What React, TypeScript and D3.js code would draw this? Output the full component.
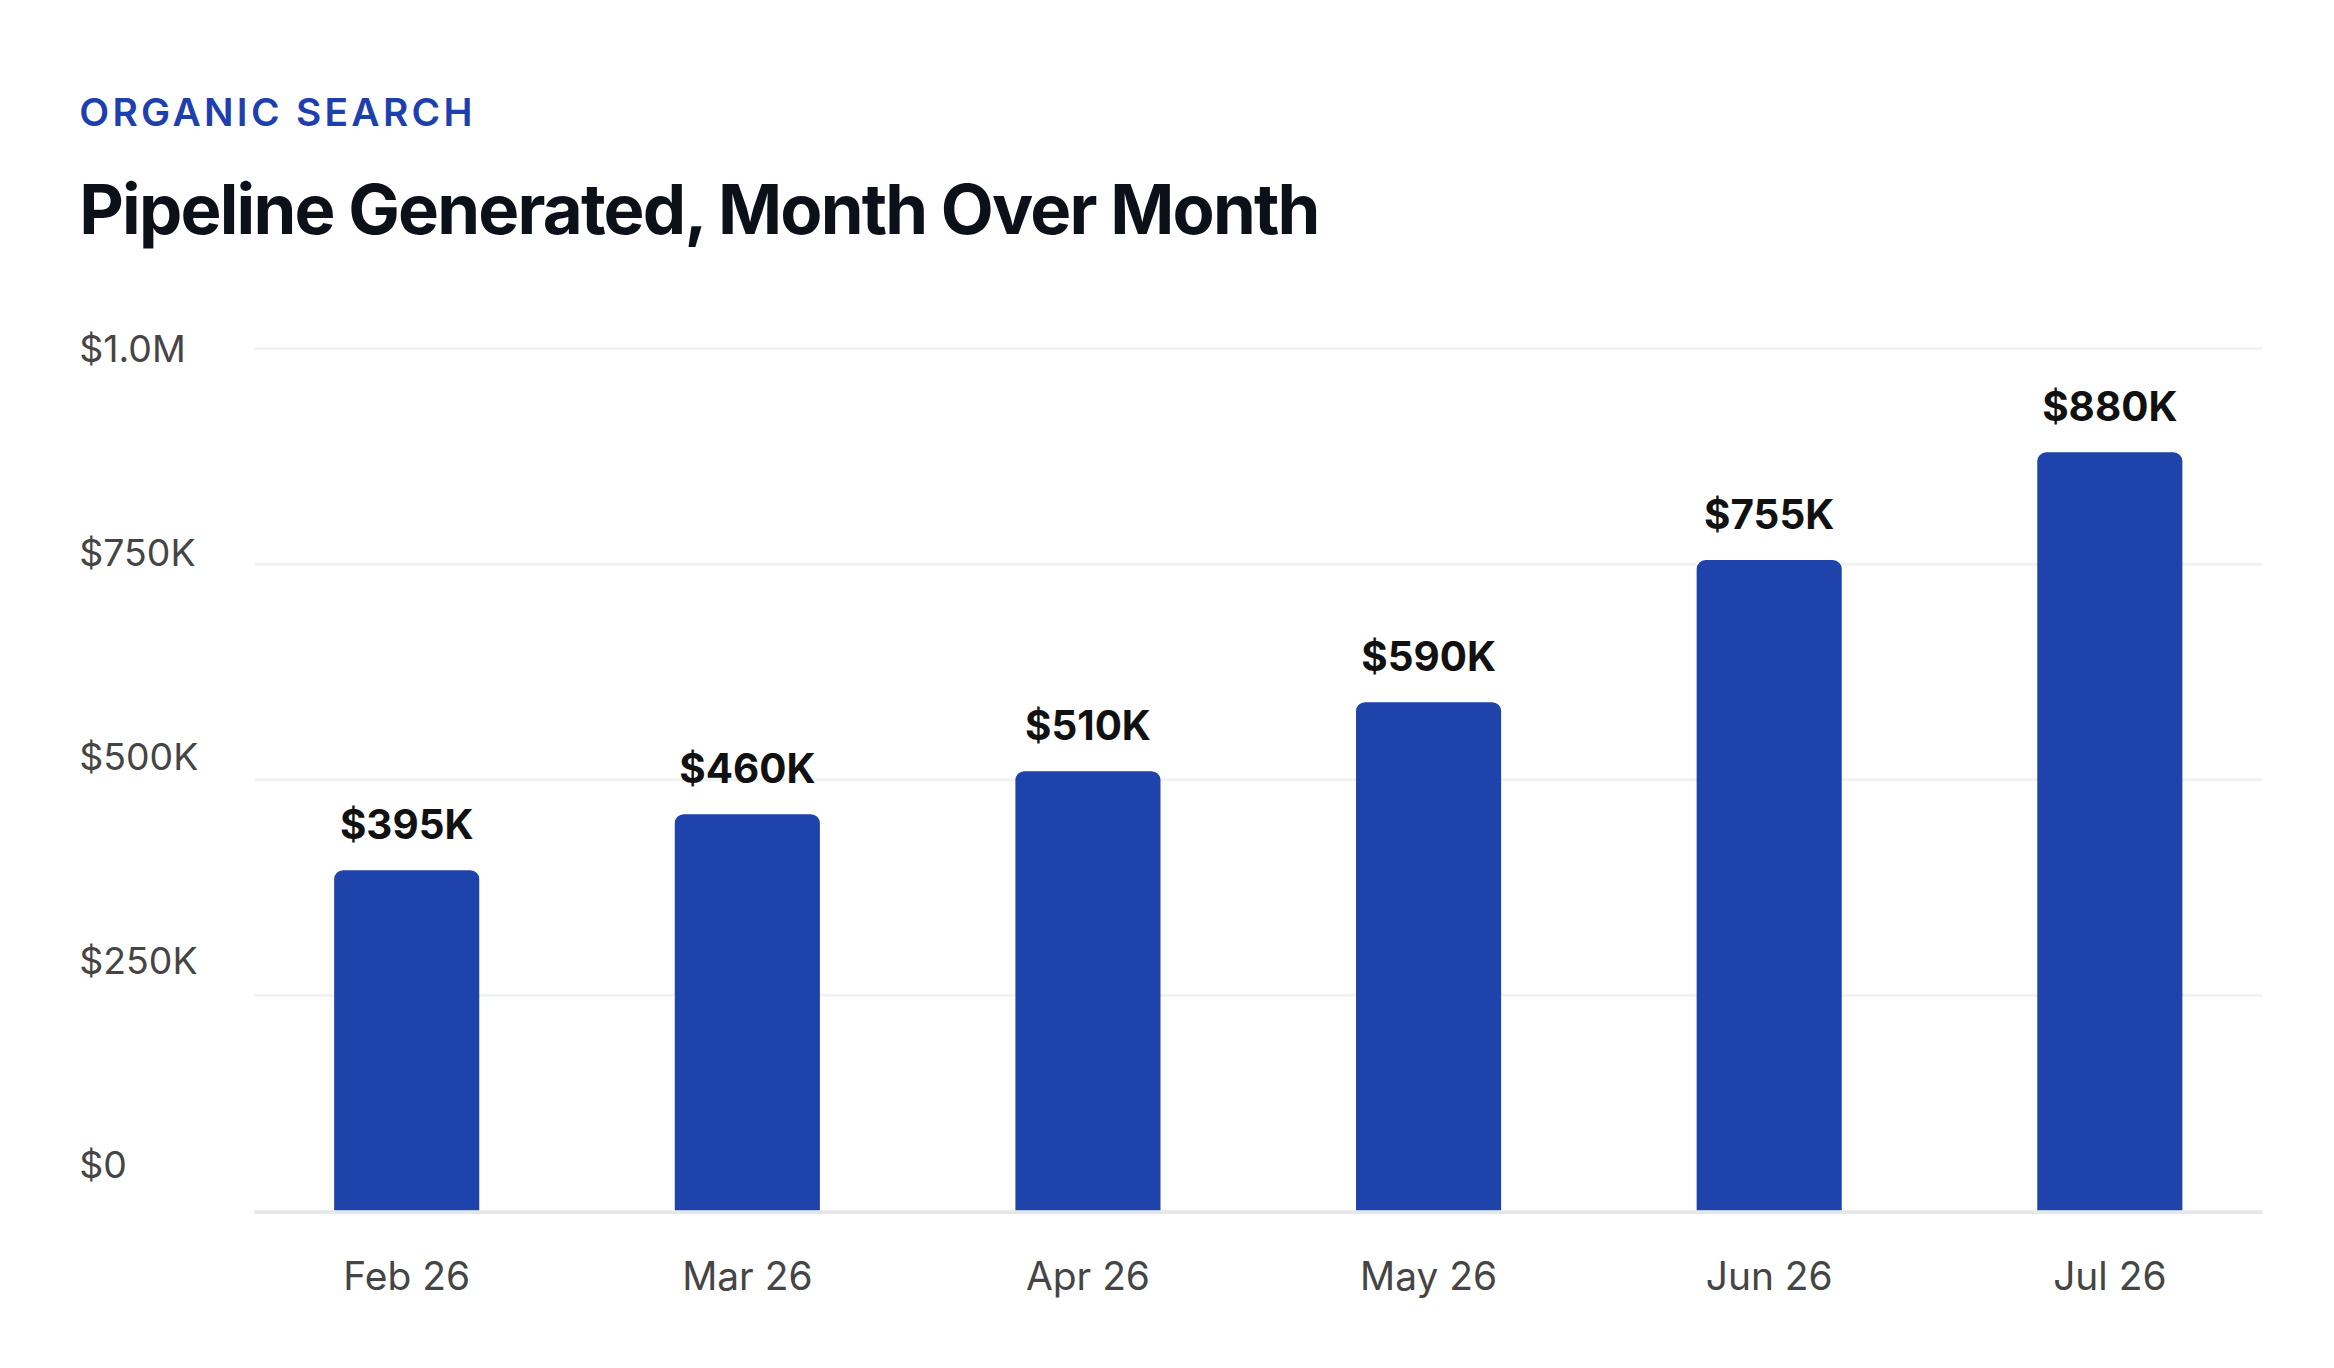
import React from 'react';
import * as d3 from 'd3';

const months = ['Feb 26', 'Mar 26', 'Apr 26', 'May 26', 'Jun 26', 'Jul 26'];
const pipeline = [395000, 460000, 510000, 590000, 755000, 880000];
const valueLabels = ['$395K', '$460K', '$510K', '$590K', '$755K', '$880K'];
const yTicks = [0, 250000, 500000, 750000, 1000000];
const yTickLabels = ['$0', '$250K', '$500K', '$750K', '$1.0M'];

const W = 1560;
const H = 912;
const font = 'Inter, "Noto Sans", sans-serif';

export default function App() {
  const y = d3.scaleLinear().domain([0, 1000000]).range([808, 232]);
  // tick labels sit on their own, slightly tighter, ladder
  const yLabel = d3.scaleLinear().domain([0, 1000000]).range([777, 232]);
  const x = d3.scaleBand<string>().domain(months).range([158, 1524]).paddingInner(0.574).paddingOuter(0.287);
  const r = 6;

  const barPath = (x0: number, w: number, top: number, bottom: number) => {
    const p = d3.path();
    p.moveTo(x0, bottom);
    p.lineTo(x0, top + r);
    p.arcTo(x0, top, x0 + r, top, r);
    p.lineTo(x0 + w - r, top);
    p.arcTo(x0 + w, top, x0 + w, top + r, r);
    p.lineTo(x0 + w, bottom);
    p.closePath();
    return p.toString();
  };

  return (
    <svg width={2334} height={1368} viewBox={`0 0 ${W} ${H}`}
      style={{ position: 'absolute', left: 0, top: 0, background: '#fff' }}>
      <text x={53} y={83} fontFamily={font} fontSize={26} fontWeight={600}
        letterSpacing={2.2} fill="#1e40af">ORGANIC SEARCH</text>
      <text x={53} y={155} fontFamily={font} fontSize={46} fontWeight={700}
        letterSpacing={-1.2} fill="#0b1019">Pipeline Generated, Month Over Month</text>

      {yTicks.map((t, i) => (
        <g key={t}>
          {t > 0 && <line x1={170} x2={1512} y1={y(t)} y2={y(t)} stroke="#f1f2f5" strokeWidth={2} />}
          <text x={53} y={yLabel(t) + 9} fontFamily={font} fontSize={25} fill="#454545">{yTickLabels[i]}</text>
        </g>
      ))}

      {months.map((m, i) => {
        const x0 = x(m)!;
        const w = x.bandwidth();
        const top = y(pipeline[i]);
        return (
          <g key={m}>
            <path d={barPath(x0, w, top, y(0))} fill="#1e43aa" />
            <text x={x0 + w / 2} y={top - 21} textAnchor="middle" fontFamily={font}
              fontSize={27} fontWeight={700} fill="#111">{valueLabels[i]}</text>
            <text x={x0 + w / 2} y={861} textAnchor="middle" fontFamily={font}
              fontSize={26} fill="#454545">{m}</text>
          </g>
        );
      })}
      <line x1={170} x2={1512} y1={y(0) + 1} y2={y(0) + 1} stroke="#e5e7eb" strokeWidth={2.5} />
    </svg>
  );
}
